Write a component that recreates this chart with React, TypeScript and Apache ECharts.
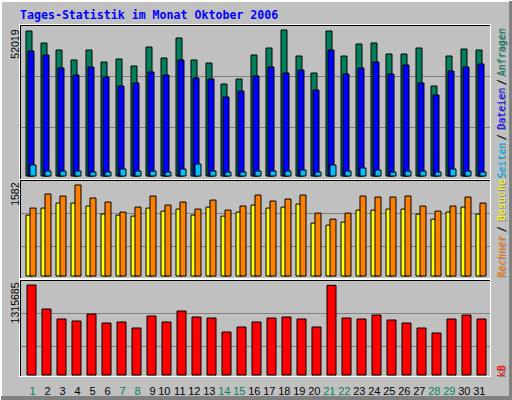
import React, { useEffect, useRef } from "react";
import * as echarts from "echarts";

const titleText = "Tages-Statistik im Monat Oktober 2006";

const days = ["1","2","3","4","5","6","7","8","9","10","11","12","13","14","15","16","17","18","19","20","21","22","23","24","25","26","27","28","29","30","31"];
const weekendDays = ["1","7","8","14","15","21","22","28","29"];

// Anfragen (hits)
const hits = [51665, 47418, 44941, 41403, 44941, 40695, 41757, 39280, 46003, 42111, 49188, 41403, 40341, 32910, 34679, 43172, 45649, 52019, 42818, 36802, 51665, 42818, 47064, 47418, 43526, 43526, 45649, 32202, 42818, 45295, 44941];
// Dateien (files)
const files = [44587, 43172, 38572, 36095, 38926, 35387, 32202, 33264, 37156, 36095, 41403, 35033, 34679, 28310, 30433, 35741, 38926, 36802, 37864, 30787, 44941, 36449, 38572, 40695, 36449, 39634, 33264, 29017, 37510, 38926, 39988];
// Seiten (pages)
const pages = [4247, 2123, 2105, 2140, 1769, 1790, 2831, 2123, 2110, 1769, 2831, 4600, 2123, 1769, 1780, 2123, 2140, 2123, 2477, 1769, 4247, 2123, 3185, 2477, 1769, 2123, 2110, 1769, 2831, 2123, 1769];
// Besuche (visits)
const visits = [1064, 1185, 1271, 1271, 1220, 1082, 1064, 1047, 1185, 1133, 1168, 1064, 1202, 1047, 1116, 1237, 1185, 1202, 1254, 926, 892, 944, 1151, 1151, 1168, 1168, 1082, 995, 1116, 1202, 1082];
// Rechner (sites)
const sites = [1185, 1427, 1392, 1582, 1358, 1289, 1116, 1202, 1392, 1237, 1289, 1168, 1323, 1151, 1220, 1409, 1306, 1340, 1409, 1099, 995, 1099, 1392, 1375, 1375, 1392, 1220, 1133, 1220, 1375, 1271];
// kB
const kbytes = [1315685, 968690, 824110, 795194, 896401, 766278, 780736, 693988, 867485, 780736, 939774, 853027, 838569, 636156, 708446, 780736, 838569, 853027, 824110, 708446, 1311000, 838569, 824110, 881943, 809652, 766278, 693988, 621698, 824110, 881943, 824110];

const C_HITS = "#00805c";
const C_FILES = "#0000ff";
const C_PAGES = "#00c0ff";
const C_VISITS = "#ffff00";
const C_SITES = "#ff8000";
const C_KB = "#ff0000";

export default function App() {
  const ref = useRef<HTMLDivElement>(null);
  useEffect(() => {
    const chart = echarts.init(ref.current!, null, { renderer: "svg" });
    const maxP1 = Math.max(...hits);
    const maxP2 = Math.max(...visits, ...sites);
    const maxP3 = Math.max(...kbytes);

    const GW = 465;
    const grids = [
      { left: 23.5, width: GW, top: 29.5, height: 147 },
      { left: 23.5, width: GW, top: 184.5, height: 92 },
      { left: 24, width: GW, top: 284.5, height: 91 },
      { left: 28, width: GW, top: 370, height: 6 },
    ];
    const xAxes: any[] = grids.map((_, i) => ({
      type: "category",
      gridIndex: i,
      data: days,
      show: i === 3,
      axisLine: { show: false },
      axisTick: { show: false },
      splitLine: { show: false },
      axisLabel: {
        show: i === 3,
        interval: 0,
        align: "right",
        margin: 9,
        fontFamily: "Liberation Sans",
        fontSize: 11,
        color: (v: string) => (weekendDays.includes(v) ? C_HITS : "#000000"),
      },
    }));
    const maxes = [maxP1, maxP2, maxP3, 1];
    const yAxes: any[] = grids.map((_, i) => ({
      type: "value",
      gridIndex: i,
      min: 0,
      max: maxes[i],
      show: false,
      splitLine: { show: false },
    }));

    const border = { borderColor: "#000000", borderWidth: 1 };
    const series: any[] = [
      { name: "Anfragen", type: "bar", xAxisIndex: 0, yAxisIndex: 0, data: hits, barWidth: 7, barGap: "-71.43%", itemStyle: { color: C_HITS, ...border } },
      { name: "Dateien", type: "bar", xAxisIndex: 0, yAxisIndex: 0, data: files, barWidth: 7, barGap: "-71.43%", itemStyle: { color: C_FILES, ...border } },
      { name: "Seiten", type: "bar", xAxisIndex: 0, yAxisIndex: 0, data: pages, barWidth: 7, barGap: "-71.43%", itemStyle: { color: C_PAGES, ...border } },
      { name: "Besuche", type: "bar", xAxisIndex: 1, yAxisIndex: 1, data: visits, barWidth: 7, barGap: "-42.86%", itemStyle: { color: C_VISITS, ...border } },
      { name: "Rechner", type: "bar", xAxisIndex: 1, yAxisIndex: 1, data: sites, barWidth: 7, barGap: "-42.86%", itemStyle: { color: C_SITES, ...border } },
      { name: "kB", type: "bar", xAxisIndex: 2, yAxisIndex: 2, data: kbytes, barWidth: 10, itemStyle: { color: C_KB, ...border } },
    ];

    const g: any[] = [];
    const line = (x1: number, y1: number, x2: number, y2: number, stroke: string, z: number) =>
      g.push({ type: "line", z, shape: { x1, y1, x2, y2 }, style: { stroke, lineWidth: 1 } });

    // gridlines (behind bars)
    [76, 127, 213, 246, 313, 346].forEach((r) => line(21, r + 0.5, 490, r + 0.5, "#808080", 1));

    // panel frames
    const panels = [
      [25, 179],
      [180, 278],
      [280, 376],
    ];
    panels.forEach(([T, B]) => {
      line(19, T - 0.5, 491, T - 0.5, "#ffffff", 10);
      line(19.5, T - 1, 19.5, B + 1, "#ffffff", 10);
      line(490.5, T - 1, 490.5, B + 1, "#ffffff", 10);
      line(19, B + 0.5, 491, B + 0.5, "#ffffff", 10);
      line(20, T + 0.5, 490, T + 0.5, "#000000", 11);
      line(20.5, T, 20.5, B, "#000000", 11);
    });

    // outer bevel
    g.push({ type: "rect", z: 10, shape: { x: 0, y: 0, width: 512, height: 2 }, style: { fill: "#ffffff" } });
    g.push({ type: "rect", z: 10, shape: { x: 0, y: 0, width: 2, height: 400 }, style: { fill: "#ffffff" } });
    g.push({ type: "rect", z: 11, shape: { x: 509, y: 1, width: 3, height: 399 }, style: { fill: "#808080" } });
    g.push({ type: "rect", z: 11, shape: { x: 1, y: 396, width: 511, height: 4 }, style: { fill: "#808080" } });

    // title
    g.push({
      type: "text", z: 12, x: 20, y: 15,
      style: { text: titleText, fill: "#0000ff", fontFamily: "DejaVu Sans Mono", fontWeight: "bold", fontSize: 11.6, verticalAlign: "middle", align: "left" },
    });

    // left max labels (rotated, end at top)
    const maxLabel = (val: number, yTop: number) =>
      g.push({
        type: "text", z: 12, x: 15, y: yTop, rotation: Math.PI / 2,
        style: { text: String(val), fill: "#000000", fontFamily: "Liberation Sans", fontSize: 10.5, align: "right", verticalAlign: "middle" },
      });
    maxLabel(maxP1, 29.5);
    maxLabel(maxP2, 182.5);
    maxLabel(maxP3, 282.5);

    // right legends (rotated, start at bottom)
    const vword = (text: string, yBottom: number, color: string) => {
      g.push({
        type: "text", z: 12, x: 502, y: yBottom + 1, rotation: Math.PI / 2,
        style: { text, fill: "#808080", fontFamily: "DejaVu Sans Mono", fontSize: 10, align: "left", verticalAlign: "middle" },
      });
      g.push({
        type: "text", z: 13, x: 501, y: yBottom, rotation: Math.PI / 2,
        style: { text, fill: color, fontFamily: "DejaVu Sans Mono", fontSize: 10, align: "left", verticalAlign: "middle" },
      });
    };
    vword("Anfragen", 76, C_HITS);
    vword("/", 85, "#000000");
    vword("Dateien", 129.5, C_FILES);
    vword("/", 140, "#000000");
    vword("Seiten", 178, C_PAGES);
    vword("Besuche", 221, C_VISITS);
    vword("/", 232, "#000000");
    vword("Rechner", 277, C_SITES);
    vword("kB", 377, C_KB);

    chart.setOption({
      animation: false,
      backgroundColor: "#c0c0c0",
      grid: grids,
      xAxis: xAxes,
      yAxis: yAxes,
      series,
      graphic: { elements: g },
    });
    return () => chart.dispose();
  }, []);
  return <div ref={ref} style={{ position: "absolute", left: 0, top: 0, width: 512, height: 400 }} />;
}
